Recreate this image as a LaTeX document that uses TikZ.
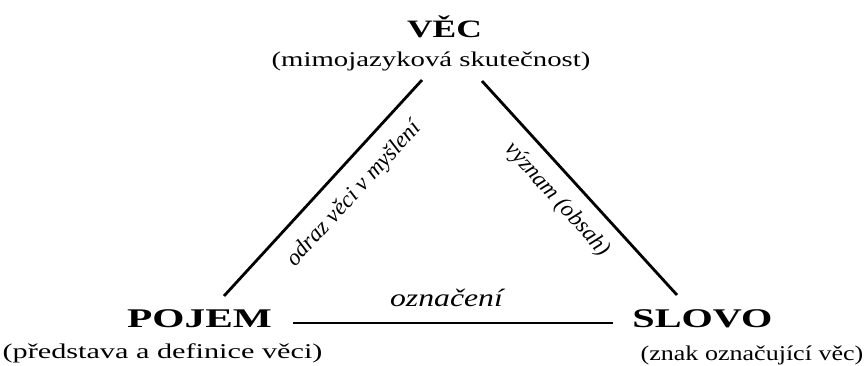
\documentclass[tikz,border=0pt]{standalone}
\usepackage{fontspec}
\setmainfont{Liberation Serif}
\usepackage{graphicx}
\begin{document}
\begin{tikzpicture}[x=1pt,y=-1pt,
  titlebf/.style={anchor=base, inner sep=0pt, font=\fontsize{27}{30}\selectfont\bfseries},
  subtxt/.style={anchor=base, inner sep=0pt, font=\fontsize{21}{25}\selectfont},
  lab/.style={anchor=base, inner sep=0pt, font=\fontsize{23}{27}\selectfont\itshape},
  edge/.style={line width=2.8pt, black}]
\useasboundingbox (0,0) rectangle (865,365);
% titles
\node[titlebf, font=\fontsize{25}{30}\selectfont\bfseries] (vec) at (444.5,37) {\scalebox{1.42}[1]{VĚC}};
\node[subtxt] (vecsub) at (431,66) {\scalebox{1.37}[1]{(mimojazyková skutečnost)}};
\node[titlebf] (pojem) at (199.5,327) {\scalebox{1.53}[1]{POJEM}};
\node[subtxt] (pojemsub) at (162.5,358) {\scalebox{1.44}[1]{(představa a definice věci)}};
\node[titlebf] (slovo) at (702.5,327) {\scalebox{1.49}[1]{SLOVO}};
\node[subtxt] (slovosub) at (752,360) {\scalebox{1.24}[1]{(znak označující věc)}};
% connector end points
\coordinate (vecL) at (422,80);
\coordinate (vecR) at (482,81);
\coordinate (pojemT) at (224,296);
\coordinate (slovoT) at (677,295);
\coordinate (pojemR) at (293,323);
\coordinate (slovoL) at (613,323);
% connectors
\draw[edge] (pojemT) -- (vecL);
\draw[edge] (vecR) -- (slovoT);
\draw[edge] (pojemR) -- (slovoL);
% labels
\node[lab, rotate=47.5] (odraz) at (358.4,198.1) {odraz věci v myšlení};
\node[lab, rotate=-47.7] (vyznam) at (553.1,203.6) {význam (obsah)};
\node[lab, font=\fontsize{25}{29}\selectfont\itshape] (oznaceni) at (446.5,306) {\scalebox{1.27}[1]{označení}};
\end{tikzpicture}
\end{document}
